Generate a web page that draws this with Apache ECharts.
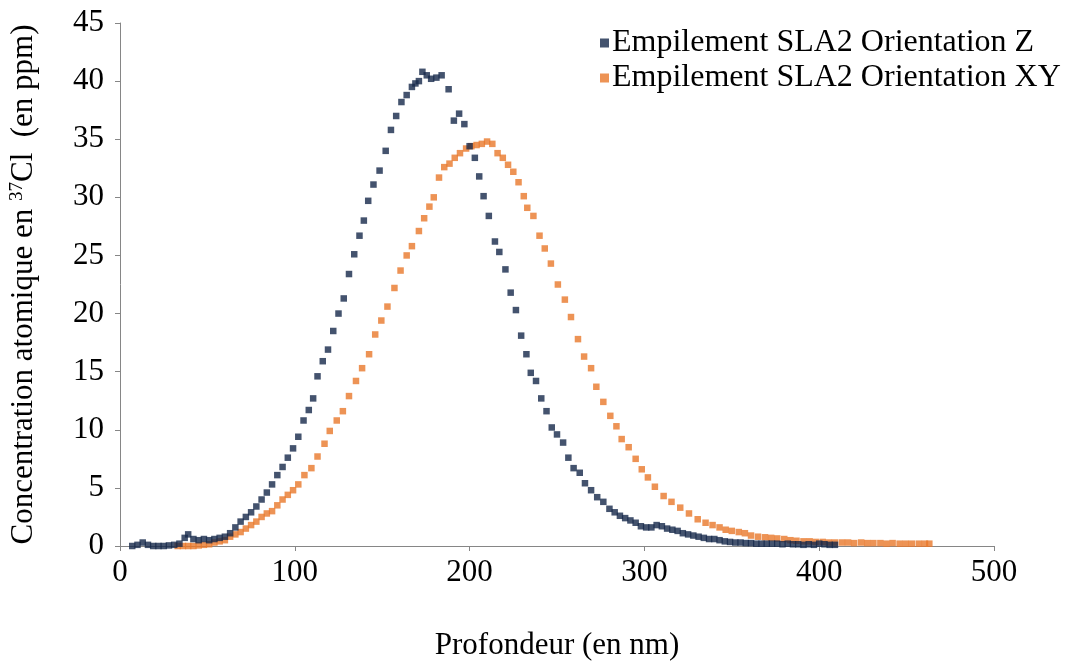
<!DOCTYPE html>
<html>
<head>
<meta charset="utf-8">
<script src="https://cdn.jsdelivr.net/npm/echarts@6/dist/echarts.min.js"></script>
<style>html,body{margin:0;padding:0;background:#fff;}#c{width:1075px;height:666px;}</style>
</head>
<body>
<div id="c"></div>
<script>
const seriesNames = ['Empilement SLA2 Orientation Z', 'Empilement SLA2 Orientation XY'];
const xTicks = [0, 100, 200, 300, 400, 500];
const yTicks = [0, 5, 10, 15, 20, 25, 30, 35, 40, 45];

const pointsZ = [[7,0],[10,0.1],[13,0.3],[16,0.1],[19,0],[22,0],[25,0],[28,0.05],[31,0.1],[34,0.2],[37,0.7],[39,1.0],[42,0.6],[45,0.5],[48,0.6],[51,0.5],[54,0.6],[57,0.7],[60,0.8],[63,1.1],[66,1.6],[69,2.1],[72,2.5],[75,2.9],[78,3.4],[81,4.0],[84,4.6],[87,5.3],[90,6.1],[93,6.8],[96,7.6],[99,8.4],[102,9.4],[105,10.8],[108,11.7],[110.5,12.7],[113,14.6],[116,15.9],[119,16.9],[122,18.5],[125,20.0],[128,21.3],[131,23.4],[134,25.1],[137,26.7],[139.5,28.0],[142,29.7],[145,31.1],[148.5,32.3],[152,34.0],[155,35.8],[158,37.0],[161,38.2],[164,38.8],[167,39.5],[169,39.8],[171,40.0],[173,40.8],[175.5,40.5],[178,40.2],[181,40.3],[184,40.5],[188,39.3],[191,36.6],[194,37.2],[197,36.3],[200,34.4],[203,33.4],[205.5,31.8],[208,30.1],[211,28.4],[214.5,26.2],[217,25.3],[220.5,23.8],[223.5,21.8],[226.5,20.3],[229.5,18.1],[232.5,16.5],[235,14.9],[238,14.2],[241,12.7],[244,11.6],[247,10.2],[250,9.6],[253.5,8.9],[256.5,7.6],[259.5,6.7],[263,6.3],[266,5.4],[269.5,4.8],[273,4.2],[276.5,3.8],[280,3.2],[283,2.9],[286,2.6],[289,2.4],[292,2.2],[295,2.0],[298,1.7],[301,1.6],[304,1.6],[307,1.8],[310,1.7],[313,1.5],[316,1.4],[319,1.3],[322,1.1],[325,1.0],[328,0.9],[331,0.8],[334,0.7],[337,0.6],[340,0.6],[343,0.5],[346,0.4],[349,0.35],[352,0.3],[355,0.3],[358,0.25],[361,0.25],[364,0.2],[367,0.2],[370,0.2],[373,0.2],[376,0.2],[379,0.15],[382,0.2],[385,0.15],[388,0.15],[391,0.1],[394,0.15],[397,0.1],[400,0.2],[403,0.15],[406,0.1],[409,0.1]];

const pointsXY = [[33,0],[36,0],[39,0],[42,0],[45,0.05],[48,0.1],[51,0.15],[54,0.3],[57,0.4],[60,0.5],[63,0.8],[66,1.0],[69,1.2],[72,1.5],[75,1.8],[78,2.1],[81,2.5],[84,2.8],[87,3.0],[90,3.5],[93,4.0],[96,4.4],[99,4.8],[102,5.3],[105.5,6.1],[109.5,6.7],[113,7.7],[117,8.8],[120,9.9],[124,10.8],[127.5,11.6],[131,12.9],[135,14.2],[138.5,15.3],[142.5,16.5],[146,18.2],[149.5,19.4],[153,20.6],[157,22.2],[160.5,23.7],[164,25.0],[167,25.8],[171,27.1],[174,28.2],[177,29.2],[179.5,30.0],[182.5,31.7],[185.5,32.6],[188.5,32.9],[191.5,33.4],[194.5,33.8],[198,34.2],[201,34.4],[204,34.5],[207,34.6],[210,34.8],[213,34.6],[216,33.8],[219,33.4],[222,32.8],[225,32.2],[228,31.3],[231,30.1],[233,29.1],[236.5,28.4],[240,26.7],[243,25.6],[246.5,24.3],[250.5,22.5],[254.5,21.2],[258,19.7],[262,17.8],[265.5,16.3],[269.5,15.3],[272.5,13.7],[276.5,12.4],[280.5,11.2],[284,10.3],[287,9.2],[291,8.5],[295,7.5],[298.5,6.6],[302,5.9],[306,5.1],[311,4.3],[315.5,3.8],[320.5,3.3],[325.5,2.8],[330.5,2.3],[335,2.0],[339,1.8],[343,1.6],[346.5,1.4],[350,1.3],[354,1.2],[357.5,1.1],[361,0.9],[365,0.8],[369,0.75],[372.5,0.7],[376,0.65],[380,0.6],[383.5,0.5],[387,0.45],[391,0.4],[394.5,0.4],[398,0.35],[402,0.35],[405.5,0.3],[409,0.3],[413,0.3],[416.5,0.3],[420,0.25],[424,0.3],[427.5,0.25],[431,0.25],[435,0.25],[438.5,0.2],[442,0.25],[446,0.2],[449.5,0.2],[453,0.2],[457,0.2],[460.5,0.2],[463,0.2]];

const FONT = 'Liberation Serif';
const chart = echarts.init(document.getElementById('c'), null, {renderer: 'canvas'});
chart.setOption({
  backgroundColor: '#ffffff',
  animation: false,
  grid: {left: 118, right: 81, top: 23, bottom: 115, containLabel: false},
  legend: {
    orient: 'vertical', left: 595, top: 22, itemGap: 3,
    itemWidth: 9, itemHeight: 9, icon: 'rect',
    textStyle: {fontFamily: FONT, fontSize: 32, color: '#000', padding: [0,0,0,-2]},
    data: seriesNames
  },
  xAxis: {
    type: 'value', min: xTicks[0], max: xTicks[xTicks.length-1], interval: 100,
    name: 'Profondeur (en nm)', nameLocation: 'middle', nameGap: 84,
    nameTextStyle: {fontFamily: FONT, fontSize: 31, color: '#000'},
    axisLine: {show: true, lineStyle: {color: '#868686', width: 1}},
    axisTick: {show: true, inside: false, length: 5, lineStyle: {color: '#868686'}},
    axisLabel: {fontFamily: FONT, fontSize: 31, color: '#000', margin: 11},
    splitLine: {show: false}
  },
  yAxis: {
    type: 'value', min: yTicks[0], max: yTicks[yTicks.length-1], interval: 5,
    name: '{a|Concentration atomique en }{s|37}{a|Cl  (en ppm)}',
    nameLocation: 'middle', nameGap: 80, nameRotate: 90,
    nameTextStyle: {fontFamily: FONT, fontSize: 31, color: '#000',
      rich: {a: {fontFamily: FONT, fontSize: 31, color: '#000', lineHeight: 32},
             s: {fontFamily: FONT, fontSize: 19, color: '#000', lineHeight: 19, verticalAlign: 'top'}}},
    axisLine: {show: true, lineStyle: {color: '#868686', width: 1}},
    axisTick: {show: true, inside: false, length: 5, lineStyle: {color: '#868686'}},
    axisLabel: {fontFamily: FONT, fontSize: 31, color: '#000', margin: 16},
    splitLine: {show: false}
  },
  series: [
    {name: seriesNames[0], type: 'scatter', data: pointsZ, symbol: 'rect', symbolSize: 6.5,
     itemStyle: {color: '#15284a'}},
    {name: seriesNames[1], type: 'scatter', data: pointsXY, symbol: 'rect', symbolSize: 6.5,
     itemStyle: {color: '#e8782a'}, z: 1}
  ]
});
</script>
</body>
</html>
